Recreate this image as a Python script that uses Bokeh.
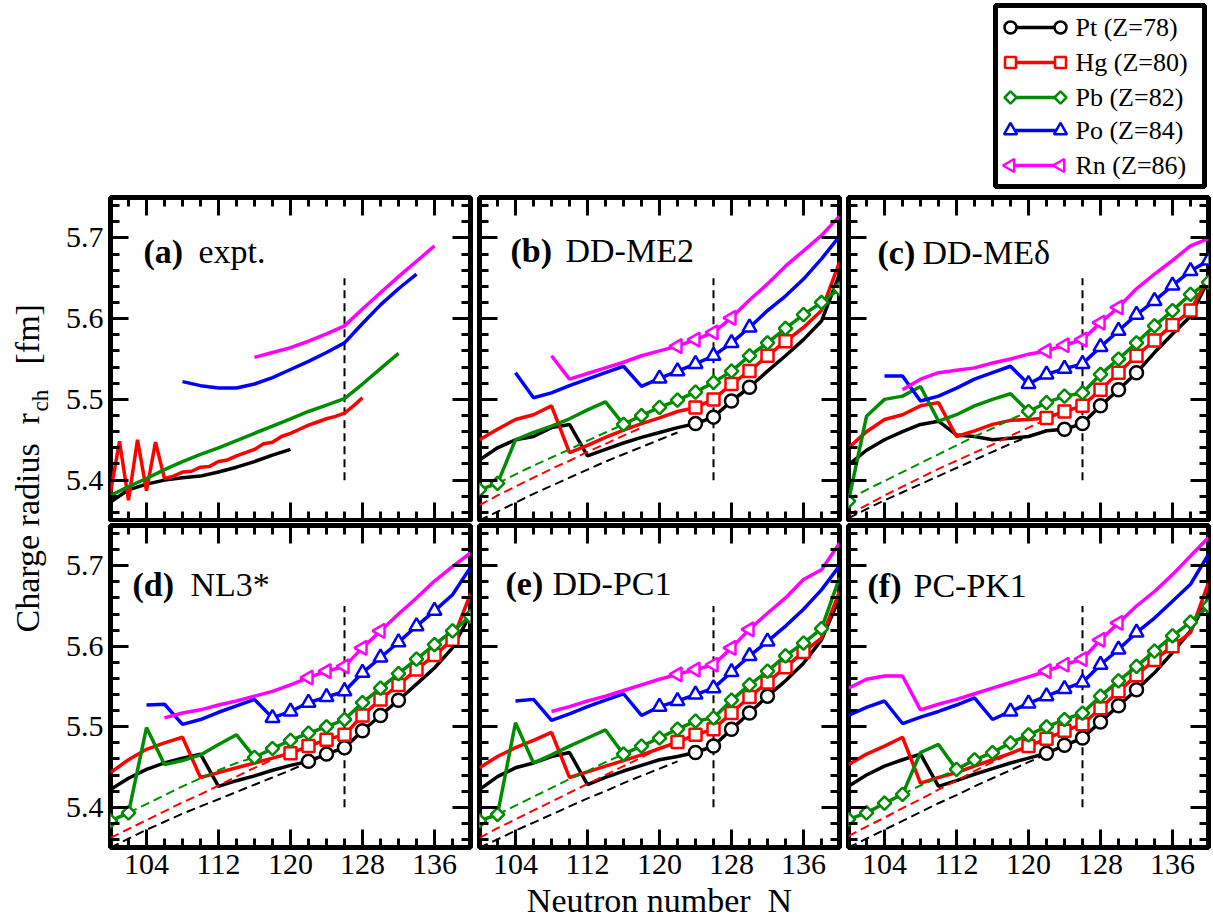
import math
from bokeh.plotting import figure
from bokeh.models import Range1d, LinearAxis, SingleIntervalTicker, NumeralTickFormatter, CustomJSTickFormatter
from bokeh.layouts import column, row
from bokeh.embed import file_html
from bokeh.resources import INLINE
from bokeh.core.properties import value

FONT = "Liberation Serif"

# ---------------- data ----------------
ELEMENT_LABELS = ["Pt (Z=78)", "Hg (Z=80)", "Pb (Z=82)", "Po (Z=84)", "Rn (Z=86)"]
COLORS = ["black", "#ff0000", "#008c00", "#0000ff", "#ff00ff"]
X_TITLE = "Neutron number\u00a0\u00a0N"

N_100_140 = [100, 102, 104, 106, 108, 110, 112, 114, 116, 118, 120, 122, 124, 126, 128, 130, 132, 134, 136, 138, 140]
N_104_140 = [104, 106, 108, 110, 112, 114, 116, 118, 120, 122, 124, 126, 128, 130, 132, 134, 136, 138, 140]
N_106_140 = [106, 108, 110, 112, 114, 116, 118, 120, 122, 124, 126, 128, 130, 132, 134, 136, 138, 140]
N_108_140 = [108, 110, 112, 114, 116, 118, 120, 122, 124, 126, 128, 130, 132, 134, 136, 138, 140]
N_100_122 = [100, 102, 104, 106, 108, 110, 112, 114, 116, 118, 120, 122]
N_100_120 = [100, 102, 104, 106, 108, 110, 112, 114, 116, 118, 120]
N_100_118 = [100, 102, 104, 106, 108, 110, 112, 114, 116, 118]
N_102_116 = [102, 104, 106, 108, 110, 112, 114, 116]
N_106_112 = [106, 108, 110, 112]

# (a) experiment
a_pt_N = [100, 102, 104, 106, 108, 110, 112, 114, 116, 118, 120]
a_pt_r = [5.373, 5.388, 5.395, 5.400, 5.403, 5.405, 5.410, 5.416, 5.423, 5.431, 5.438]
a_hg_N = [100, 101, 102, 103, 104, 105, 106, 107, 108, 109, 110, 111, 112, 113, 114, 115, 116, 117, 118,
          119, 120, 121, 122, 123, 124, 125, 126, 127, 128]
a_hg_r = [5.385, 5.448, 5.375, 5.450, 5.387, 5.447, 5.402, 5.405, 5.410, 5.411, 5.416, 5.417, 5.423, 5.425,
          5.430, 5.434, 5.438, 5.445, 5.447, 5.454, 5.458, 5.463, 5.468, 5.472, 5.476, 5.479, 5.483, 5.492, 5.502]
a_pb_N = [100, 102, 104, 106, 108, 110, 112, 114, 116, 118, 120, 122, 124, 126, 128, 130, 132]
a_pb_r = [5.381, 5.392, 5.402, 5.413, 5.423, 5.432, 5.440, 5.449, 5.458, 5.467, 5.476, 5.485, 5.493, 5.501,
          5.519, 5.538, 5.557]
a_po_N = [108, 110, 112, 114, 116, 118, 120, 122, 124, 126, 128, 130, 132, 134]
a_po_r = [5.522, 5.517, 5.514, 5.514, 5.519, 5.527, 5.537, 5.547, 5.558, 5.570, 5.594, 5.617, 5.637, 5.655]
a_rn_N = [116, 118, 120, 122, 124, 126, 128, 130, 132, 134, 136]
a_rn_r = [5.552, 5.558, 5.564, 5.572, 5.581, 5.591, 5.612, 5.632, 5.652, 5.671, 5.690]

# (b) DD-ME2
b_pt_r = [5.425, 5.440, 5.450, 5.454, 5.465, 5.469, 5.430, 5.438, 5.446, 5.453, 5.459, 5.465, 5.470, 5.478,
          5.498, 5.515, 5.535, 5.554, 5.574, 5.597, 5.655]
b_pt_mk = [124, 126, 128, 130]
b_pt_dr = [5.350, 5.361, 5.372, 5.383, 5.393, 5.403, 5.413, 5.423, 5.432, 5.441, 5.450, 5.459]
b_hg_r = [5.450, 5.463, 5.475, 5.481, 5.492, 5.434, 5.443, 5.453, 5.462, 5.470, 5.477, 5.485, 5.490, 5.500,
          5.519, 5.535, 5.554, 5.572, 5.589, 5.610, 5.670]
b_hg_mk = [124, 126, 128, 130, 132, 134]
b_hg_dr = [5.369, 5.381, 5.392, 5.403, 5.414, 5.424, 5.435, 5.445, 5.455, 5.465]
b_pb_r = [5.388, 5.396, 5.450, 5.459, 5.467, 5.476, 5.487, 5.497, 5.469, 5.480, 5.490, 5.499, 5.509, 5.521,
          5.535, 5.554, 5.570, 5.588, 5.605, 5.620, 5.637]
b_pb_mk = [100, 102, 116, 118, 120, 122, 124, 126, 128, 130, 132, 134, 136, 138, 140]
b_pb_dr = [5.396, 5.407, 5.418, 5.428, 5.438, 5.449, 5.459, 5.469]
b_po_r = [5.533, 5.502, 5.508, 5.517, 5.525, 5.533, 5.541, 5.516, 5.526, 5.535, 5.544, 5.554, 5.570, 5.589,
          5.610, 5.628, 5.649, 5.674, 5.702]
b_po_mk = [120, 122, 124, 126, 128, 130]
b_rn_r = [5.554, 5.525, 5.532, 5.539, 5.546, 5.554, 5.560, 5.566, 5.574, 5.583, 5.601, 5.623, 5.643, 5.665,
          5.684, 5.703, 5.727]
b_rn_mk = [122, 124, 126, 128]

# (c) DD-ME delta
c_pt_r = [5.419, 5.437, 5.450, 5.460, 5.469, 5.473, 5.456, 5.454, 5.450, 5.452, 5.454, 5.461, 5.463, 5.470,
          5.492, 5.512, 5.533, 5.558, 5.581, 5.603, 5.648]
c_pt_mk = [124, 126, 128, 130, 132]
c_pt_dr = [5.353, 5.364, 5.375, 5.385, 5.395, 5.405, 5.415, 5.425, 5.435, 5.445, 5.454, 5.462]
c_hg_r = [5.440, 5.460, 5.475, 5.481, 5.492, 5.496, 5.454, 5.461, 5.469, 5.474, 5.475, 5.477, 5.485, 5.492,
          5.512, 5.533, 5.554, 5.573, 5.592, 5.610, 5.651]
c_hg_mk = [122, 124, 126, 128, 130, 132, 134, 136, 138]
c_hg_dr = [5.357, 5.369, 5.381, 5.392, 5.403, 5.414, 5.424, 5.434, 5.444, 5.455, 5.465, 5.475]
c_pb_r = [5.374, 5.479, 5.500, 5.504, 5.516, 5.473, 5.481, 5.492, 5.500, 5.507, 5.485, 5.496, 5.504, 5.508,
          5.531, 5.550, 5.570, 5.591, 5.610, 5.630, 5.645]
c_pb_mk = [100, 120, 122, 124, 126, 128, 130, 132, 134, 136, 138, 140]
c_pb_dr = [5.376, 5.388, 5.399, 5.410, 5.421, 5.432, 5.443, 5.454, 5.464, 5.475, 5.485]
c_po_r = [5.529, 5.529, 5.498, 5.504, 5.514, 5.525, 5.533, 5.541, 5.519, 5.531, 5.538, 5.544, 5.565, 5.585,
          5.605, 5.622, 5.641, 5.659, 5.672]
c_po_mk = [120, 122, 124, 126, 128, 130, 132, 134, 136, 138, 140]
c_rn_r = [5.512, 5.525, 5.533, 5.536, 5.539, 5.545, 5.550, 5.556, 5.560, 5.567, 5.574, 5.595, 5.614, 5.637,
          5.655, 5.672, 5.690, 5.699]
c_rn_mk = [122, 124, 126, 128, 130]

# (d) NL3*
d_pt_r = [5.422, 5.436, 5.447, 5.455, 5.461, 5.466, 5.426, 5.433, 5.439, 5.446, 5.452, 5.457, 5.466, 5.474,
          5.495, 5.514, 5.533, 5.553, 5.573, 5.598, 5.640]
d_pt_mk = [122, 124, 126, 128, 130, 132]
d_pt_dr = [5.350, 5.361, 5.372, 5.382, 5.392, 5.401, 5.410, 5.419, 5.428, 5.437, 5.446, 5.456]
d_hg_r = [5.443, 5.459, 5.472, 5.480, 5.487, 5.437, 5.443, 5.449, 5.455, 5.461, 5.467, 5.476, 5.484, 5.490,
          5.514, 5.534, 5.552, 5.571, 5.589, 5.608, 5.665]
d_hg_mk = [120, 122, 124, 126, 128, 130, 132, 134, 136, 138]
d_hg_dr = [5.362, 5.373, 5.384, 5.395, 5.406, 5.416, 5.427, 5.438, 5.449, 5.459]
d_pb_r = [5.383, 5.393, 5.499, 5.453, 5.458, 5.465, 5.478, 5.490, 5.462, 5.473, 5.483, 5.492, 5.500, 5.509,
          5.530, 5.548, 5.566, 5.584, 5.602, 5.619, 5.637]
d_pb_mk = [100, 102, 116, 118, 120, 122, 124, 126, 128, 130, 132, 134, 136, 138, 140]
d_pb_dr = [5.393, 5.404, 5.415, 5.426, 5.436, 5.446, 5.455, 5.462]
d_po_r = [5.527, 5.528, 5.503, 5.509, 5.518, 5.526, 5.534, 5.511, 5.519, 5.530, 5.537, 5.544, 5.567, 5.586,
          5.605, 5.625, 5.644, 5.664, 5.698]
d_po_mk = [118, 120, 122, 124, 126, 128, 130, 132, 134, 136]
d_rn_r = [5.511, 5.517, 5.521, 5.527, 5.532, 5.538, 5.544, 5.552, 5.561, 5.569, 5.575, 5.598, 5.619, 5.640,
          5.660, 5.681, 5.699, 5.716]
d_rn_mk = [122, 124, 126, 128, 130]

# (e) DD-PC1
e_pt_r = [5.422, 5.438, 5.449, 5.455, 5.463, 5.468, 5.428, 5.437, 5.445, 5.452, 5.459, 5.463, 5.468, 5.476,
          5.497, 5.517, 5.538, 5.557, 5.579, 5.608, 5.660]
e_pt_mk = [124, 126, 128, 130, 132]
e_pt_dr = [5.350, 5.360, 5.371, 5.381, 5.391, 5.401, 5.411, 5.420, 5.430, 5.439, 5.448, 5.457]
e_hg_r = [5.449, 5.463, 5.474, 5.483, 5.493, 5.437, 5.444, 5.451, 5.458, 5.465, 5.473, 5.481, 5.490, 5.497,
          5.517, 5.537, 5.555, 5.574, 5.593, 5.610, 5.668]
e_hg_mk = [122, 124, 126, 128, 130, 132, 134, 136]
e_hg_dr = [5.362, 5.374, 5.385, 5.396, 5.407, 5.418, 5.429, 5.440, 5.451, 5.462, 5.473]
e_pb_r = [5.383, 5.391, 5.505, 5.455, 5.465, 5.476, 5.486, 5.496, 5.466, 5.476, 5.486, 5.497, 5.507, 5.511,
          5.533, 5.552, 5.569, 5.588, 5.604, 5.622, 5.685]
e_pb_mk = [100, 102, 116, 118, 120, 122, 124, 126, 128, 130, 132, 134, 136, 138]
e_pb_dr = [5.391, 5.402, 5.413, 5.424, 5.435, 5.445, 5.456, 5.466]
e_po_r = [5.532, 5.534, 5.508, 5.516, 5.525, 5.533, 5.541, 5.514, 5.525, 5.532, 5.540, 5.548, 5.568, 5.588,
          5.606, 5.625, 5.646, 5.670, 5.700]
e_po_mk = [120, 122, 124, 126, 128, 130, 132]
e_rn_r = [5.519, 5.525, 5.532, 5.538, 5.545, 5.552, 5.559, 5.565, 5.571, 5.577, 5.598, 5.621, 5.641, 5.660,
          5.683, 5.695, 5.728]
e_rn_mk = [122, 124, 126, 128, 130]

# (f) PC-PK1
f_pt_r = [5.426, 5.440, 5.451, 5.459, 5.466, 5.426, 5.433, 5.441, 5.448, 5.455, 5.461, 5.467, 5.477, 5.486,
          5.506, 5.526, 5.546, 5.567, 5.592, 5.619, 5.660]
f_pt_mk = [122, 124, 126, 128, 130, 132]
f_pt_dr = [5.350, 5.361, 5.372, 5.383, 5.394, 5.405, 5.415, 5.426, 5.436, 5.446, 5.456, 5.466]
f_hg_r = [5.453, 5.466, 5.476, 5.487, 5.430, 5.437, 5.443, 5.451, 5.459, 5.467, 5.476, 5.485, 5.495, 5.503,
          5.523, 5.544, 5.564, 5.583, 5.600, 5.617, 5.679]
f_hg_mk = [120, 122, 124, 126, 128, 130, 132, 134, 136]
f_hg_dr = [5.364, 5.376, 5.387, 5.399, 5.410, 5.422, 5.433, 5.445, 5.456, 5.467]
f_pb_r = [5.385, 5.393, 5.405, 5.416, 5.468, 5.478, 5.447, 5.459, 5.468, 5.480, 5.490, 5.500, 5.509, 5.517,
          5.538, 5.557, 5.575, 5.594, 5.613, 5.630, 5.650]
f_pb_mk = [100, 102, 104, 106, 112, 114, 116, 118, 120, 122, 124, 126, 128, 130, 132, 134, 136, 138, 140]
f_pb_dr = [5.416, 5.427, 5.437, 5.447]
f_po_r = [5.514, 5.524, 5.532, 5.504, 5.512, 5.519, 5.527, 5.536, 5.509, 5.519, 5.529, 5.538, 5.547, 5.555,
          5.577, 5.596, 5.617, 5.635, 5.656, 5.677, 5.714]
f_po_mk = [118, 120, 122, 124, 126, 128, 130, 132]
f_rn_r = [5.548, 5.559, 5.563, 5.563, 5.521, 5.528, 5.534, 5.541, 5.548, 5.555, 5.562, 5.569, 5.577, 5.584,
          5.608, 5.629, 5.650, 5.668, 5.689, 5.712, 5.735]
f_rn_mk = [122, 124, 126, 128, 130]

PANEL_TAGS = ["(a)", "(b)", "(c)", "(d)", "(e)", "(f)"]
PANEL_NAMES = ["expt.", "DD-ME2", "DD-ME\u03b4", "NL3*", "DD-PC1", "PC-PK1"]
SHELL_N = 126

# ---------------- style / geometry ----------------
MARKERS = [("circle", 0.0, 13), ("square", 0.0, 12), ("square", math.pi / 4, 9.5),
           ("triangle", 0.0, 14), ("triangle", math.pi / 2, 14)]
YT_W = 56
FRAME_W = 360
FRAME_H = [323, 324]
BL = [110 - YT_W, 5, 5]
BR = [4, 4, 5]
BT = [5, 3]
BB = [2, 72]
XMIN, XMAX = 100, 140
YMIN, YMAX = 5.35, 5.75
FRAME_LEFT_PAGE = [110, 479, 848]
FRAME_TOP_PAGE = [197, 525]
LABEL_POS = [  # (tag px, name px, text middle py) in page pixels
    (143, 198, 251), (510, 565, 250), (877, 922, 252),
    (132, 190, 584), (505, 552, 583), (867, 913, 585),
]
EMPTY_FMT = CustomJSTickFormatter(code="return ''")


def style_axis(ax, ticker, show, fmt=None):
    ax.ticker = ticker
    ax.axis_line_color = None
    ax.major_tick_in = 18
    ax.major_tick_out = 0
    ax.minor_tick_in = 9
    ax.minor_tick_out = 0
    ax.major_tick_line_width = 3
    ax.minor_tick_line_width = 3
    ax.major_tick_line_color = "black"
    ax.minor_tick_line_color = "black"
    if show:
        if fmt is not None:
            ax.formatter = fmt
        ax.major_label_text_font = FONT
        ax.major_label_text_font_size = "30px"
        ax.major_label_text_color = "black"
        ax.major_label_standoff = 7
    else:
        ax.formatter = EMPTY_FMT
        ax.major_label_text_font_size = "1px"
        ax.major_label_standoff = 0


def make_panel(idx, series):
    ci, ri = idx % 3, idx // 3
    fh = FRAME_H[ri]
    p = figure(width=BL[ci] + FRAME_W + BR[ci], height=BT[ri] + fh + BB[ri],
               x_range=Range1d(XMIN, XMAX), y_range=Range1d(YMIN, YMAX),
               output_backend="svg", toolbar_location=None,
               min_border=0, min_border_left=BL[ci], min_border_right=BR[ci],
               min_border_top=BT[ri], min_border_bottom=BB[ri])
    p.xgrid.visible = False
    p.ygrid.visible = False
    p.outline_line_color = "black"
    p.outline_line_width = 5
    p.background_fill_color = "white"
    p.border_fill_color = "white"

    xt = SingleIntervalTicker(interval=8, num_minor_ticks=4)
    yt_ = SingleIntervalTicker(interval=0.1, num_minor_ticks=5)
    style_axis(p.xaxis[0], xt, ri == 1)
    style_axis(p.yaxis[0], yt_, ci == 0, NumeralTickFormatter(format="0.0"))
    if idx == 4:
        ax = p.xaxis[0]
        ax.axis_label = X_TITLE
        ax.axis_label_text_font = FONT
        ax.axis_label_text_font_size = "34px"
        ax.axis_label_text_font_style = "normal"
        ax.axis_label_text_color = "black"
        ax.axis_label_standoff = 5
    top = LinearAxis()
    right = LinearAxis()
    style_axis(top, xt, False)
    style_axis(right, yt_, False)
    p.add_layout(top, "above")
    p.add_layout(right, "right")

    # shell closure marker
    p.segment(x0=[SHELL_N], y0=[5.40], x1=[SHELL_N], y1=[5.65],
              line_color="black", line_width=2, line_dash="8 5")

    for k, s in enumerate(series):
        N, r, mk, dN, dr = s
        c = COLORS[k]
        if dN:
            p.line(dN, dr, line_color=c, line_width=2, line_dash="9 5")
        p.line(N, r, line_color=c, line_width=3.5)
        if mk:
            xs = [n for n in N if n in mk]
            ys = [r[N.index(n)] for n in xs]
            m, ang, sz = MARKERS[k]
            p.scatter(xs, ys, marker=m, angle=ang, size=sz, line_color=c,
                      fill_color="white", line_width=2.5)

    # panel label
    tpx, npx, mpy = LABEL_POS[idx]
    sx = (XMAX - XMIN) / FRAME_W
    sy = (YMAX - YMIN) / fh
    lx = XMIN + (tpx - FRAME_LEFT_PAGE[ci]) * sx
    nx = XMIN + (npx - FRAME_LEFT_PAGE[ci]) * sx
    ly = YMAX - (mpy - FRAME_TOP_PAGE[ri]) * sy
    p.text(x=[lx], y=[ly], text=[PANEL_TAGS[idx]], text_font=value(FONT),
           text_font_size=value("34px"), text_font_style="bold",
           text_color="black", text_baseline="middle", text_align="left")
    p.text(x=[nx], y=[ly], text=[PANEL_NAMES[idx]], text_font=value(FONT),
           text_font_size=value("34px"), text_color="black",
           text_baseline="middle", text_align="left")
    return p


def pick(N, r, mk=None, dN=None, dr=None):
    return (N, r, mk or [], dN or [], dr or [])


series_a = [pick(a_pt_N, a_pt_r), pick(a_hg_N, a_hg_r), pick(a_pb_N, a_pb_r),
            pick(a_po_N, a_po_r), pick(a_rn_N, a_rn_r)]
series_b = [pick(N_100_140, b_pt_r, b_pt_mk, N_100_122, b_pt_dr),
            pick(N_100_140, b_hg_r, b_hg_mk, N_100_118, b_hg_dr),
            pick(N_100_140, b_pb_r, b_pb_mk, N_102_116, b_pb_dr),
            pick(N_104_140, b_po_r, b_po_mk),
            pick(N_108_140, b_rn_r, b_rn_mk)]
series_c = [pick(N_100_140, c_pt_r, c_pt_mk, N_100_122, c_pt_dr),
            pick(N_100_140, c_hg_r, c_hg_mk, N_100_122, c_hg_dr),
            pick(N_100_140, c_pb_r, c_pb_mk, N_100_120, c_pb_dr),
            pick(N_104_140, c_po_r, c_po_mk),
            pick(N_106_140, c_rn_r, c_rn_mk)]
series_d = [pick(N_100_140, d_pt_r, d_pt_mk, N_100_122, d_pt_dr),
            pick(N_100_140, d_hg_r, d_hg_mk, N_100_118, d_hg_dr),
            pick(N_100_140, d_pb_r, d_pb_mk, N_102_116, d_pb_dr),
            pick(N_104_140, d_po_r, d_po_mk),
            pick(N_106_140, d_rn_r, d_rn_mk)]
series_e = [pick(N_100_140, e_pt_r, e_pt_mk, N_100_122, e_pt_dr),
            pick(N_100_140, e_hg_r, e_hg_mk, N_100_120, e_hg_dr),
            pick(N_100_140, e_pb_r, e_pb_mk, N_102_116, e_pb_dr),
            pick(N_104_140, e_po_r, e_po_mk),
            pick(N_108_140, e_rn_r, e_rn_mk)]
series_f = [pick(N_100_140, f_pt_r, f_pt_mk, N_100_122, f_pt_dr),
            pick(N_100_140, f_hg_r, f_hg_mk, N_100_118, f_hg_dr),
            pick(N_100_140, f_pb_r, f_pb_mk, N_106_112, f_pb_dr),
            pick(N_100_140, f_po_r, f_po_mk),
            pick(N_100_140, f_rn_r, f_rn_mk)]

panels = [make_panel(i, s) for i, s in enumerate([series_a, series_b, series_c,
                                                     series_d, series_e, series_f])]


def blank_fig(w, h):
    f = figure(width=w, height=h, x_range=Range1d(0, w), y_range=Range1d(0, h),
               output_backend="svg", toolbar_location=None, min_border=0,
               x_axis_location=None, y_axis_location=None)
    f.xgrid.visible = False
    f.ygrid.visible = False
    f.outline_line_color = None
    f.background_fill_color = "white"
    f.border_fill_color = "white"
    return f


# legend strip (page y 0..192)
LEG_H = 192
leg = blank_fig(1213, LEG_H)
leg.quad(left=[995], right=[1204], top=[LEG_H - 5], bottom=[LEG_H - 186],
         fill_color="white", line_color="black", line_width=5)
ROW_Y = [27, 62, 97, 130, 165]
for k, lab in enumerate(ELEMENT_LABELS):
    yy = LEG_H - ROW_Y[k]
    leg.line([1010, 1060], [yy, yy], line_color=COLORS[k], line_width=3.5)
    m, ang, sz = MARKERS[k]
    leg.scatter([1010, 1060], [yy, yy], marker=m, angle=ang, size=sz - 1,
                line_color=COLORS[k], fill_color="white", line_width=2.5)
    leg.text(x=[1075], y=[yy], text=[lab], text_font=value(FONT),
             text_font_size=value("26px"), text_color="black",
             text_baseline="middle", text_align="left")

# y title strip (page y 192..921)
YT_H = 729
yt = blank_fig(YT_W, YT_H)
MID_X = 27
yt.text(x=[MID_X], y=[921 - 632], text=["Charge radius"], angle=math.pi / 2,
        text_font=value(FONT), text_font_size=value("34px"), text_color="black",
        text_baseline="middle", text_align="left")
yt.text(x=[MID_X], y=[921 - 424], text=["r"], angle=math.pi / 2,
        text_font=value(FONT), text_font_size=value("34px"), text_color="black",
        text_baseline="middle", text_align="left")
yt.text(x=[MID_X + 13], y=[921 - 411], text=["ch"], angle=math.pi / 2,
        text_font=value(FONT), text_font_size=value("23px"), text_color="black",
        text_baseline="middle", text_align="left")
yt.text(x=[MID_X], y=[921 - 364], text=["[fm]"], angle=math.pi / 2,
        text_font=value(FONT), text_font_size=value("34px"), text_color="black",
        text_baseline="middle", text_align="left")

grid = column(row(panels[0], panels[1], panels[2]),
              row(panels[3], panels[4], panels[5]))
page = column(leg, row(yt, grid))

open("out.html", "w").write(file_html(page, INLINE))
